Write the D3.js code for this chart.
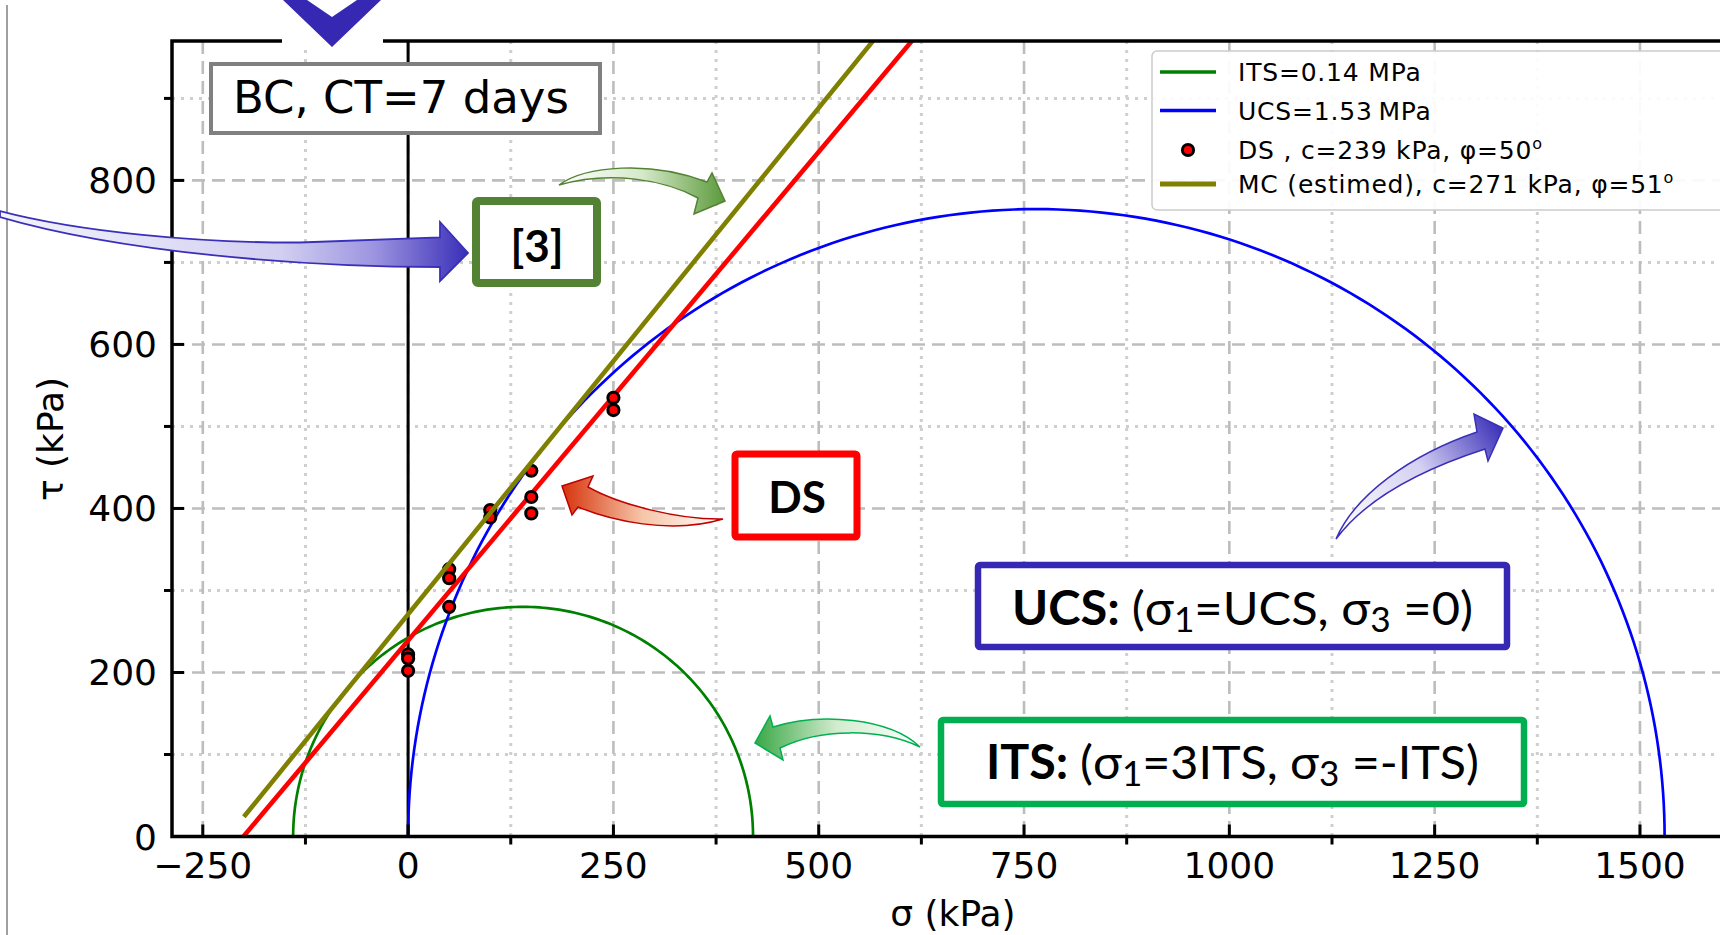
<!DOCTYPE html>
<html><head><meta charset="utf-8">
<script src="https://cdn.jsdelivr.net/npm/d3@7"></script>
<style>body{margin:0;background:#fff} svg{display:block}</style>
</head><body>
<svg id="c" width="1720" height="935"></svg>
<script>
// ---------- data ----------
const xTicks = [-250, 0, 250, 500, 750, 1000, 1250, 1500];
const yTicks = [0, 200, 400, 600, 800];
const xMinor = [-125, 125, 375, 625, 875, 1125, 1375];
const yMinor = [100, 300, 500, 700, 900];
const ITS = 140;          // kPa
const UCS = 1530;         // kPa
const dsSigma = [0, 0, 0, 50, 50, 50, 100, 100, 150, 150, 150, 250, 250];
const dsTau   = [222, 217, 202, 326, 315, 280, 398, 389, 446, 414, 394, 535, 520];
const dsC = 239, dsPhi = 50;
const mcC = 271, mcPhi = 51;
const legendLabels = ["ITS=0.14 MPa", "UCS=1.53\u2009MPa", "DS , c=239 kPa, \u03c6=50", "MC (estimed), c=271 kPa, \u03c6=51"];
const legendSup = [null, null, "o", "o"];
const legendColors = ["#008000", "#0000ff", "#ff0000", "#808000"];

// ---------- setup ----------
const svg = d3.select("#c");
const L = 172, R = 1734, T = 41, B = 836.5;
const x = d3.scaleLinear().domain([-287.5, 1614.5]).range([L, R]);
const y = d3.scaleLinear().domain([0, 970]).range([B, T]);
const FONT = "DejaVu Sans, sans-serif";

const defs = svg.append("defs");
defs.append("clipPath").attr("id", "plot").append("rect")
  .attr("x", L).attr("y", T).attr("width", R - L).attr("height", B - T);

// ---------- grid ----------
const g = svg.append("g");
g.selectAll(".mgx").data(xMinor).join("line")
  .attr("x1", d => x(d)).attr("x2", d => x(d)).attr("y1", T).attr("y2", B)
  .attr("stroke", "#cfcfcf").attr("stroke-width", 3).attr("stroke-dasharray", "3,6");
g.selectAll(".mgy").data(yMinor).join("line")
  .attr("x1", L).attr("x2", R).attr("y1", d => y(d)).attr("y2", d => y(d))
  .attr("stroke", "#cfcfcf").attr("stroke-width", 3).attr("stroke-dasharray", "3,6");
g.selectAll(".Mgx").data(xTicks).join("line")
  .attr("x1", d => x(d)).attr("x2", d => x(d)).attr("y1", T).attr("y2", B)
  .attr("stroke", "#bdbdbd").attr("stroke-width", 2.6).attr("stroke-dasharray", "13,7");
g.selectAll(".Mgy").data(yTicks).join("line")
  .attr("x1", L).attr("x2", R).attr("y1", d => y(d)).attr("y2", d => y(d))
  .attr("stroke", "#bdbdbd").attr("stroke-width", 2.6).attr("stroke-dasharray", "13,7");

// ---------- plot content ----------
const p = svg.append("g").attr("clip-path", "url(#plot)");
p.append("line").attr("x1", x(0)).attr("x2", x(0)).attr("y1", T).attr("y2", B)
  .attr("stroke", "#000").attr("stroke-width", 3);

const angles = d3.range(0, 181, 1).map(a => a * Math.PI / 180);
function circlePath(s3, s1) {
  const c = (s1 + s3) / 2, r = (s1 - s3) / 2;
  return d3.line().x(a => x(c - r * Math.cos(a))).y(a => y(r * Math.sin(a)))(angles);
}
p.append("path").attr("d", circlePath(-ITS, 3 * ITS)).attr("fill", "none")
  .attr("stroke", "#008000").attr("stroke-width", 2.7);
p.append("path").attr("d", circlePath(0, UCS)).attr("fill", "none")
  .attr("stroke", "#0000ff").attr("stroke-width", 2.7);

const tanDS = Math.tan(dsPhi * Math.PI / 180), tanMC = Math.tan(mcPhi * Math.PI / 180);
const ln = d3.line().x(d => x(d[0])).y(d => y(d[1]));
p.append("path").attr("d", ln([[-dsC / tanDS, 0], [700, dsC + 700 * tanDS]]))
  .attr("stroke", "#ff0000").attr("stroke-width", 4.6).attr("fill", "none");
p.selectAll(".pt").data(dsSigma).join("circle")
  .attr("cx", d => x(d)).attr("cy", (d, i) => y(dsTau[i])).attr("r", 5.6)
  .attr("fill", "#ff0000").attr("stroke", "#000").attr("stroke-width", 3);
p.append("path").attr("d", ln([[-200, mcC - 200 * tanMC], [700, mcC + 700 * tanMC]]))
  .attr("stroke", "#808000").attr("stroke-width", 4.6).attr("fill", "none");

// ---------- ticks ----------
const ax = svg.append("g");
ax.selectAll(".tx").data(xTicks).join("line")
  .attr("x1", d => x(d)).attr("x2", d => x(d)).attr("y1", B).attr("y2", B - 12)
  .attr("stroke", "#000").attr("stroke-width", 3);
ax.selectAll(".tmx").data(xMinor).join("line")
  .attr("x1", d => x(d)).attr("x2", d => x(d)).attr("y1", B).attr("y2", B + 8)
  .attr("stroke", "#000").attr("stroke-width", 3);
ax.selectAll(".ty").data(yTicks).join("line")
  .attr("x1", L).attr("x2", L + 12).attr("y1", d => y(d)).attr("y2", d => y(d))
  .attr("stroke", "#000").attr("stroke-width", 3);
ax.selectAll(".tmy").data(yMinor).join("line")
  .attr("x1", L - 8).attr("x2", L).attr("y1", d => y(d)).attr("y2", d => y(d))
  .attr("stroke", "#000").attr("stroke-width", 3);
const fmt = d3.format("d");
ax.selectAll(".lx").data(xTicks).join("text")
  .attr("x", d => x(d)).attr("y", 878).attr("text-anchor", "middle")
  .attr("font-family", FONT).attr("font-size", 36).text(d => d < 0 ? "\u2212" + Math.abs(d) : fmt(d));
ax.selectAll(".ly").data(yTicks).join("text")
  .attr("x", 157).attr("y", d => y(d) + 13).attr("text-anchor", "end")
  .attr("font-family", FONT).attr("font-size", 36).text(d => fmt(d));
// spines
ax.append("path").attr("d", `M${L},${T} L${1720},${T} M${L},${T - 1.75} L${L},${B + 1.75} M${L},${B} L1720,${B}`)
  .attr("stroke", "#000").attr("stroke-width", 3.5).attr("fill", "none");
// axis labels
svg.append("text").attr("x", 953).attr("y", 926).attr("text-anchor", "middle")
  .attr("font-family", FONT).attr("font-size", 36).text("\u03c3 (kPa)");
svg.append("text").attr("transform", "translate(63,439) rotate(-90)").attr("text-anchor", "middle")
  .attr("font-family", FONT).attr("font-size", 36).text("\u03c4 (kPa)");

// ---------- legend ----------
const lg = svg.append("g");
lg.append("rect").attr("x", 1152).attr("y", 51).attr("width", 600).attr("height", 159).attr("rx", 5)
  .attr("fill", "#fff").attr("fill-opacity", 0.92).attr("stroke", "#cccccc").attr("stroke-width", 1.5);
const rowY = [72, 110.5, 150, 184];
legendLabels.forEach((lab, i) => {
  if (i === 2) {
    lg.append("circle").attr("cx", 1188).attr("cy", rowY[i]).attr("r", 5.6)
      .attr("fill", "#ff0000").attr("stroke", "#000").attr("stroke-width", 3);
  } else {
    lg.append("line").attr("x1", 1160).attr("x2", 1216).attr("y1", rowY[i]).attr("y2", rowY[i])
      .attr("stroke", legendColors[i]).attr("stroke-width", i === 3 ? 5 : 3.5);
  }
  const t = lg.append("text").attr("x", 1238).attr("y", rowY[i] + 9)
    .attr("font-family", FONT).attr("font-size", 25).attr("letter-spacing", 0.8).text(lab);
  if (legendSup[i]) t.append("tspan").attr("dy", -10).attr("font-size", 16).text(legendSup[i]);
});

// ---------- annotations ----------
const an = svg.append("g");
// frame line at left
an.append("line").attr("x1", 7).attr("x2", 7).attr("y1", 5).attr("y2", 935)
  .attr("stroke", "#a0a0a0").attr("stroke-width", 2);
// chevron
an.append("rect").attr("x", 282).attr("y", 0).attr("width", 101).attr("height", 47).attr("fill", "#fff");
an.append("path").attr("d", "M283,0 L332,47 L381,0 L357,0 L332,17 L307,0 Z").attr("fill", "#3728b3");

// title box
an.append("rect").attr("x", 211).attr("y", 64).attr("width", 389).attr("height", 69)
  .attr("fill", "#fff").attr("stroke", "#808080").attr("stroke-width", 4);
an.append("text").attr("x", 233).attr("y", 113).attr("font-family", FONT).attr("font-size", 45).text("BC, CT=7 days");

function grad(id, x1, y1, x2, y2, stops) {
  const lgd = defs.append("linearGradient").attr("id", id).attr("gradientUnits", "userSpaceOnUse")
    .attr("x1", x1).attr("y1", y1).attr("x2", x2).attr("y2", y2);
  stops.forEach(s => lgd.append("stop").attr("offset", s[0]).attr("stop-color", s[1]));
}
grad("gBig", 0, 0, 468, 0, [[0, "#f4f4fc"], [0.6, "#d2cff1"], [0.8, "#9c94e0"], [1, "#3a2fb8"]]);
grad("gGreen", 559, 0, 725, 0, [[0, "#ffffff"], [0.5, "#d6e9c9"], [1, "#5b9a3a"]]);
grad("gRed", 723, 0, 562, 0, [[0, "#ffffff"], [0.5, "#f6c6a8"], [1, "#d6330c"]]);
grad("gUcs", 1336, 539, 1503, 428, [[0, "#ffffff"], [0.55, "#d4d1f2"], [1, "#3a2fb8"]]);
grad("gIts", 920, 0, 755, 0, [[0, "#ffffff"], [0.5, "#d3ecd0"], [1, "#3aa846"]]);

an.append("path").attr("d", "M0,211 C80,232 200,243 300,242.5 L440,237.5 L440,222 L468,253 L440,281 L440,267 C300,267 120,252 0,217 Z")
  .attr("fill", "url(#gBig)").attr("stroke", "#3a2fb8").attr("stroke-width", 1.8);
an.append("path").attr("d", "M559,185 C585,166 650,160 707,182 L712,173 L725,201 L694,214 L698,198 C665,180 610,170 559,185 Z")
  .attr("fill", "url(#gGreen)").attr("stroke", "#548235").attr("stroke-width", 1.5);
an.append("path").attr("d", "M723,519 C680,520 620,505 588,487 L593,476 L562,486 L572,515 L578,507 C610,520 670,535 723,519 Z")
  .attr("fill", "url(#gRed)").attr("stroke", "#c00000").attr("stroke-width", 1.5);
an.append("path").attr("d", "M1336,539 C1355,495 1410,455 1477,432 L1474,414 L1503,428 L1488,461 L1485,449 C1420,470 1365,500 1336,539 Z")
  .attr("fill", "url(#gUcs)").attr("stroke", "#3a2fb8").attr("stroke-width", 1.5);
an.append("path").attr("d", "M920,747 C890,718 820,712 773,727 L770,716 L755,743 L783,760 L780,748 C820,728 880,728 920,747 Z")
  .attr("fill", "url(#gIts)").attr("stroke", "#00b050").attr("stroke-width", 1.5);

const BF = "Lato, 'Open Sans', sans-serif";
function box(x0, y0, w, h, col, sw) {
  an.append("rect").attr("x", x0).attr("y", y0).attr("width", w).attr("height", h).attr("rx", 2)
    .attr("fill", "#fff").attr("stroke", col).attr("stroke-width", sw).attr("stroke-linejoin", "round");
}
box(476, 201, 121, 82, "#548235", 8);
an.append("text").attr("x", 537).attr("y", 262).attr("text-anchor", "middle").attr("font-family", BF)
  .attr("font-weight", "bold").attr("font-size", 44).text("[3]");
box(735, 454, 122, 83, "#ff0000", 7);
an.append("text").attr("x", 797).attr("y", 513).attr("text-anchor", "middle").attr("font-family", BF)
  .attr("font-weight", "bold").attr("font-size", 44).text("DS");
box(978, 565, 529, 82, "#3728b3", 6.5);
const t1 = an.append("text").attr("x", 1012).attr("y", 625).attr("font-family", BF).attr("font-size", 47)
  .attr("textLength", 461).attr("lengthAdjust", "spacingAndGlyphs");
t1.append("tspan").attr("font-weight", "bold").text("UCS: ");
t1.append("tspan").text("(\u03c3");
t1.append("tspan").attr("dy", 7).attr("font-size", 34).text("1");
t1.append("tspan").attr("dy", -7).text("=UCS, \u03c3");
t1.append("tspan").attr("dy", 7).attr("font-size", 34).text("3");
t1.append("tspan").attr("dy", -7).text(" =0)");
box(941, 720, 583, 84, "#00b050", 6.5);
const t2 = an.append("text").attr("x", 986).attr("y", 779).attr("font-family", BF).attr("font-size", 47)
  .attr("textLength", 493).attr("lengthAdjust", "spacingAndGlyphs");
t2.append("tspan").attr("font-weight", "bold").text("ITS: ");
t2.append("tspan").text("(\u03c3");
t2.append("tspan").attr("dy", 7).attr("font-size", 34).text("1");
t2.append("tspan").attr("dy", -7).text("=3ITS, \u03c3");
t2.append("tspan").attr("dy", 7).attr("font-size", 34).text("3");
t2.append("tspan").attr("dy", -7).text(" =-ITS)");
</script>
</body></html>
